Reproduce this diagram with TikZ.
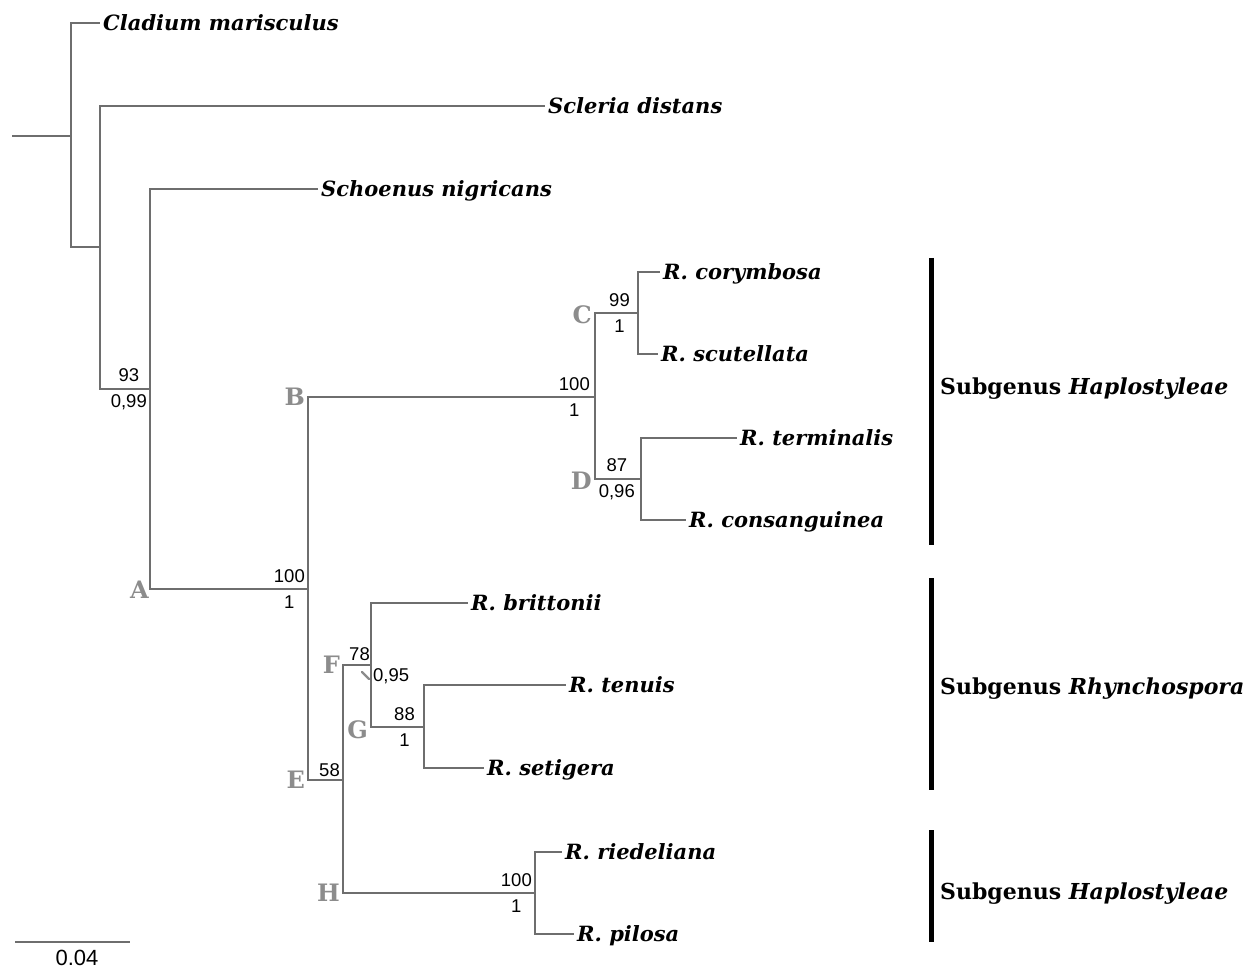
\documentclass[tikz,border=0pt]{standalone}
\usepackage{fontspec}
\setmainfont{DejaVu Serif}
\newfontfamily\numfont{Liberation Sans}
\usetikzlibrary{positioning}
\newcommand{\taxfont}{\fontsize{21}{21}\selectfont\bfseries\itshape}
\newcommand{\cladefont}{\fontsize{24}{24}\selectfont\bfseries}
\newcommand{\suppfont}{\numfont\fontsize{18.5}{26}\selectfont}
\newcommand{\sgfont}{\fontsize{22}{22}\selectfont\bfseries}
\definecolor{branchgray}{RGB}{110,110,110}
\definecolor{cladegray}{RGB}{140,140,140}

\begin{document}
\begin{tikzpicture}[x=1pt,y=-1pt,
    branch/.style={draw=branchgray, line width=1.3pt},
    taxon/.style={anchor=west, inner sep=3pt, text height=15pt, text depth=0pt, font=\taxfont},
    clade/.style={anchor=east, inner sep=0pt, text=cladegray, font=\cladefont},
    supp/.style={inner sep=0pt, align=center, font=\suppfont},
    subgenus/.style={anchor=west, inner sep=0pt, text height=16pt, text depth=0pt, font=\sgfont},
    bar/.style={line width=5pt}]
  \useasboundingbox (0,0) rectangle (1256,968);

  % internal nodes
  \coordinate (root) at (12,136);
  \coordinate (n1) at (71,136);
  \coordinate (n2) at (100,247);
  \coordinate (n3) at (150,389);
  \coordinate (A) at (308,589);
  \coordinate (B) at (595,397);
  \coordinate (C) at (638,313);
  \coordinate (D) at (641,479);
  \coordinate (E) at (343,780);
  \coordinate (F) at (371,665);
  \coordinate (G) at (424,727);
  \coordinate (H) at (535,893);

  % taxa
  \node[taxon] (cladium) at (100,23) {Cladium marisculus};
  \node[taxon] (scleria) at (545,106) {Scleria distans};
  \node[taxon] (schoenus) at (318,189) {Schoenus nigricans};
  \node[taxon] (corymbosa) at (660,272) {R. corymbosa};
  \node[taxon] (scutellata) at (658,354) {R. scutellata};
  \node[taxon] (terminalis) at (737,438) {R. terminalis};
  \node[taxon] (consanguinea) at (686,520) {R. consanguinea};
  \node[taxon] (brittonii) at (468,603) {R. brittonii};
  \node[taxon] (tenuis) at (566,685) {R. tenuis};
  \node[taxon] (setigera) at (484,768) {R. setigera};
  \node[taxon] (riedeliana) at (562,852) {R. riedeliana};
  \node[taxon] (pilosa) at (574,934) {R. pilosa};

  \draw[branch] (root) -- (n1);
  \draw[branch] (n1) |- (cladium.west);
  \draw[branch] (n1) |- (n2);
  \draw[branch] (n2) |- (scleria.west);
  \draw[branch] (n2) |- (n3);
  \draw[branch] (n3) |- (schoenus.west);
  \draw[branch] (n3) |- (A);
  \draw[branch] (A) |- (B);
  \draw[branch] (A) |- (E);
  \draw[branch] (B) |- (C);
  \draw[branch] (B) |- (D);
  \draw[branch] (C) |- (corymbosa.west);
  \draw[branch] (C) |- (scutellata.west);
  \draw[branch] (D) |- (terminalis.west);
  \draw[branch] (D) |- (consanguinea.west);
  \draw[branch] (E) |- (F);
  \draw[branch] (E) |- (H);
  \draw[branch] (F) |- (brittonii.west);
  \draw[branch] (F) |- (G);
  \draw[branch] (G) |- (tenuis.west);
  \draw[branch] (G) |- (setigera.west);
  \draw[branch] (H) |- (riedeliana.west);
  \draw[branch] (H) |- (pilosa.west);

  % clade letters
  \node[clade] (labA) at ([xshift=-1pt,yshift=-1pt]n3 |- A) {A};
  \node[clade] (labB) at ([xshift=-3pt]A |- B) {B};
  \node[clade] (labC) at ([xshift=-3pt,yshift=-2pt]B |- C) {C};
  \node[clade] (labD) at ([xshift=-3pt,yshift=-2pt]B |- D) {D};
  \node[clade] (labE) at ([xshift=-3pt]A |- E) {E};
  \node[clade] (labF) at ([xshift=-3pt]E |- F) {F};
  \node[clade] (labG) at ([xshift=-3pt,yshift=-3pt]F |- G) {G};
  \node[clade] (labH) at ([xshift=-3pt]E |- H) {H};

  % support values
  \node[supp, left=3pt of n3] {93\\0,99};
  \node[supp, left=3pt of A] {100\\1};
  \node[supp, left=5pt of B] {100\\1};
  \node[supp, left=8pt of C] {99\\1};
  \node[supp, left=6pt of D] {87\\0,96};
  \node[supp, above left=3pt and 3pt of E] {58};
  \node[supp, above left=4pt and 1pt of F] {78};
  \node[supp, anchor=west] (pp) at (373,676) {0,95};
  \coordinate (ptr) at (362,672);
  \draw[cladegray, line width=2.4pt, line cap=round] (ptr) -- (369,679);
  \node[supp, left=9pt of G] {88\\1};
  \node[supp, left=3pt of H] {100\\1};

  % subgenera
  \node[subgenus] (sg1) at (940,387) {Subgenus \textit{Haplostyleae}};
  \node[subgenus] (sg2) at (940,686) {Subgenus \textit{Rhynchospora}};
  \node[subgenus] (sg3) at (940,891) {Subgenus \textit{Haplostyleae}};
  \draw[bar] (931,258) -- (931,545);
  \draw[bar] (931,578) -- (931,790);
  \draw[bar] (931,830) -- (931,942);

  % scale
  \coordinate (s0) at (15,942);
  \coordinate (s1) at (130,942);
  \draw[branch] (s0) -- (s1);
  \node[inner sep=0pt, font=\numfont\fontsize{22}{22}\selectfont] (scale) at (77,958) {0.04};
\end{tikzpicture}
\end{document}
